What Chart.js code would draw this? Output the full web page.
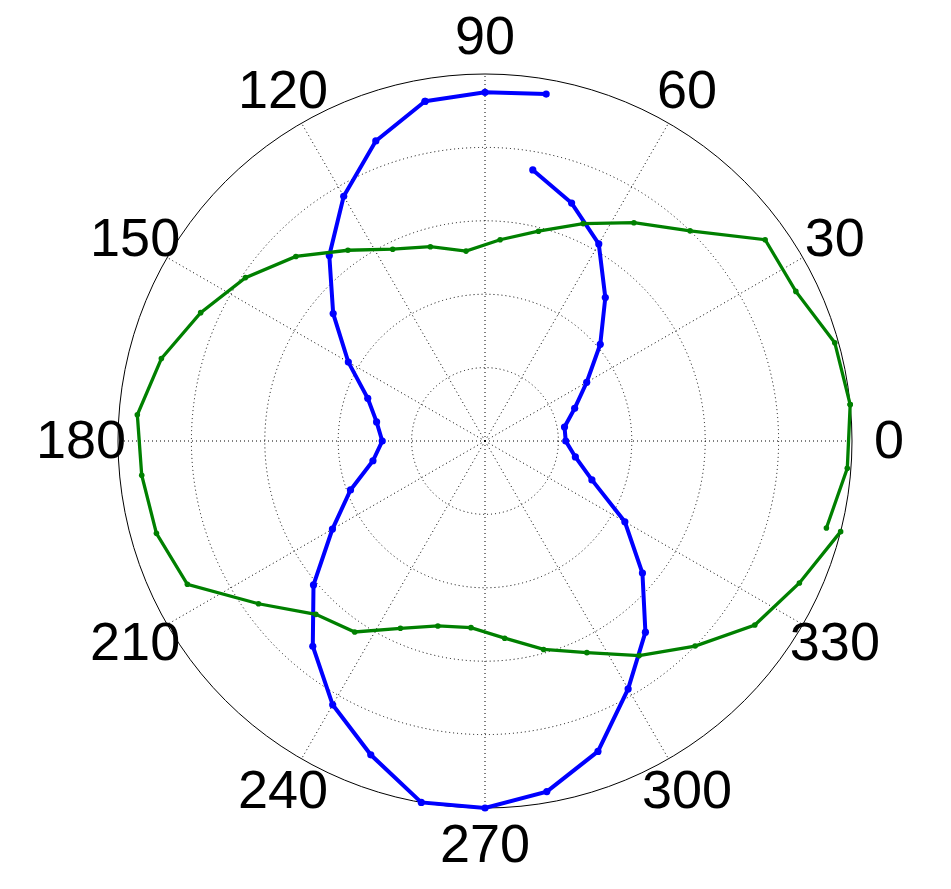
<!DOCTYPE html>
<html>
<head>
<meta charset="utf-8">
<script src="https://cdn.jsdelivr.net/npm/chart.js@4/dist/chart.umd.min.js"></script>
<style>
  html, body { margin: 0; padding: 0; background: #fff; }
  #wrap { width: 951px; height: 889px; }
</style>
</head>
<body>
<div id="wrap"><canvas id="polarChart"></canvas></div>
<script>
// angle labels, degrees counter-clockwise from east
const angleTicks = [0, 30, 60, 90, 120, 150, 180, 210, 240, 270, 300, 330];

// blue trace in plotting order (starts and ends at 80 deg, so it does not close)
const blueAngles = [80, 70, 60, 50, 40, 30, 20, 10, 0, 350, 340, 330, 320, 310, 300, 290, 280, 270,
  260, 250, 240, 230, 220, 210, 200, 190, 180, 170, 160, 150, 140, 130, 120, 110, 100, 90, 80];
const blueR = [0.75, 0.69, 0.62, 0.51, 0.41, 0.32, 0.26, 0.22, 0.22, 0.25, 0.31, 0.44, 0.56, 0.68, 0.78, 0.90, 0.97, 1.00,
  1.00, 0.91, 0.83, 0.73, 0.61, 0.48, 0.39, 0.31, 0.28, 0.30, 0.34, 0.43, 0.54, 0.66, 0.77, 0.87, 0.94, 0.95, 0.96];

// green trace, sampled 5.7 deg off the blue grid
const greenAngles = [345.7, 335.7, 325.7, 315.7, 305.7, 295.7, 285.7, 275.7, 265.7, 255.7, 245.7, 235.7,
  225.7, 215.7, 205.7, 195.7, 185.7, 175.7, 165.7, 155.7, 145.7, 135.7, 125.7, 115.7, 105.7, 95.7,
  85.7, 75.7, 65.7, 55.7, 45.7, 35.7, 25.7, 15.7, 5.7, 355.7, 345.7];
const greenR = [1.00, 0.94, 0.89, 0.80, 0.72, 0.64, 0.59, 0.54, 0.51, 0.52, 0.56, 0.63,
  0.66, 0.76, 0.90, 0.93, 0.94, 0.95, 0.91, 0.85, 0.79, 0.72, 0.64, 0.58, 0.55, 0.52,
  0.55, 0.59, 0.65, 0.72, 0.80, 0.94, 0.94, 0.99, 1.00, 0.99, 0.96];

const slots = 36;
const slotLabels = Array.from({ length: slots }, (_, i) => String((360 - 10 * i) % 360));

// radar slots run clockwise, so map each angle onto its slot; the trace is split
// in two open pieces because its first and last samples share one angle
function traceDatasets(angles, radii, offset, color, width, dot, axis) {
  const slot = a => Math.round(((((offset - a) / 10) % slots) + slots) % slots);
  const n = angles.length;
  const main = new Array(slots).fill(null);
  const tail = new Array(slots).fill(null);
  for (let k = 0; k < n - 2; k++) main[slot(angles[k])] = radii[k];
  for (let k = n - 3; k < n; k++) tail[slot(angles[k])] = radii[k];
  const base = {
    borderColor: color, backgroundColor: color, borderWidth: width,
    pointRadius: dot, pointBorderWidth: 0, pointHoverRadius: dot,
    fill: false, spanGaps: false, clip: false, tension: 0, rAxisID: axis
  };
  return [{ ...base, data: main }, { ...base, data: tail }];
}

const angleLabels = {
  id: 'angleLabels',
  afterDraw(chart) {
    const scale = chart.scales.r;
    const ctx = chart.ctx;
    ctx.save();
    ctx.font = '54px "Liberation Sans", Arial, sans-serif';
    ctx.fillStyle = '#000';
    ctx.textAlign = 'center';
    ctx.textBaseline = 'middle';
    angleTicks.forEach(a => {
      const idx = ((360 - a) / 10) % slots;
      const p = scale.getPointPosition(idx, scale.drawingArea + 37);
      ctx.fillText(String(a), p.x, p.y + 2);
    });
    ctx.restore();
  }
};

new Chart(document.getElementById('polarChart'), {
  type: 'radar',
  data: {
    labels: slotLabels,
    datasets: [
      ...traceDatasets(greenAngles, greenR, 5.7, '#008000', 3.3, 2.8, 'r2'),
      ...traceDatasets(blueAngles, blueR, 0, '#0000ff', 4, 3.6, 'r')
    ]
  },
  options: {
    responsive: true,
    maintainAspectRatio: false,
    animation: false,
    events: [],
    layout: { padding: { left: 60, right: 41, top: 74, bottom: 80 } },
    plugins: { legend: { display: false }, tooltip: { enabled: false } },
    scales: {
      r: {
        type: 'radialLinear',
        startAngle: 90,
        min: 0,
        max: 1,
        ticks: { display: false, stepSize: 0.2 },
        grid: { circular: true, color: '#000', lineWidth: 1 },
        border: { dash: c => (c.index === 5 ? [] : [1, 3]) },
        angleLines: {
          color: '#000',
          lineWidth: c => (c.index % 3 === 0 ? 1 : 0),
          borderDash: [1, 3]
        },
        pointLabels: { display: false }
      },
      r2: {
        type: 'radialLinear',
        axis: 'r',
        startAngle: 90 - 5.7,
        min: 0,
        max: 1,
        ticks: { display: false, stepSize: 0.2 },
        grid: { display: false },
        angleLines: { display: false },
        pointLabels: { display: false }
      }
    }
  },
  plugins: [angleLabels]
});
</script>
</body>
</html>
